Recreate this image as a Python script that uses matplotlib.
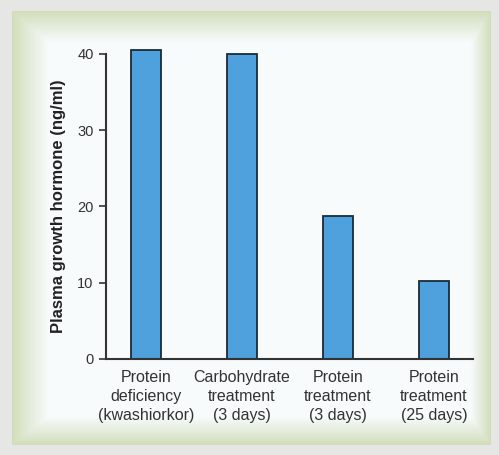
import numpy as np
import matplotlib.pyplot as plt

plt.rcParams['font.family'] = ['Liberation Sans', 'DejaVu Sans']

categories = ["Protein\ndeficiency\n(kwashiorkor)",
              "Carbohydrate\ntreatment\n(3 days)",
              "Protein\ntreatment\n(3 days)",
              "Protein\ntreatment\n(25 days)"]
values = [40.5, 40.0, 18.7, 10.2]
yticks = [0, 10, 20, 30, 40]

W, H = 499, 455
fig = plt.figure(figsize=(W / 100, H / 100), dpi=100)

# background: gray page + panel with greenish soft border
bg = fig.add_axes([0, 0, 1, 1])
bg.set_axis_off()
yy, xx = np.mgrid[0:H, 0:W]
x0, x1, y0, y1 = 12, 490, 11, 444
dl = (xx - x0) / 1.3
dr = (x1 - xx) * 1.4
dt = (yy - y0) / 1.1
db = (y1 - yy)
d = np.minimum.reduce([dl, dr, dt, db]).astype(float)
t = np.clip(d / 28.0, 0, 1)[..., None]
green = np.array([0.82, 0.87, 0.73])
white = np.array([0.972, 0.985, 0.992])
gray = np.array([0.905, 0.905, 0.895])
img = green * (1 - t) + white * t
outside = (np.minimum.reduce([xx - x0, x1 - xx, yy - y0, y1 - yy]) < 0)[..., None]
img = np.where(outside, gray, img)
bg.imshow(img, extent=[0, W, H, 0], aspect='auto')
bg.set_xlim(0, W)
bg.set_ylim(H, 0)

# main axes: y-axis at x=106, x-axis at y=359, top 40 at y=54
left, right = 106 / W, 473 / W
bottom = 1 - 359 / H
top_px = 359 - 7.625 * 42
ax = fig.add_axes([left, bottom, right - left, (359 - top_px) / H])
ax.patch.set_alpha(0)

x = np.arange(len(values))
ax.bar(x, values, width=0.31, color='#4ea1dc', edgecolor='#1c2b36', linewidth=1.3)

ax.set_xlim(-0.417, 3.406)
ax.set_ylim(0, 42)
ax.set_yticks(yticks)
ax.set_xticks(x)
ax.set_xticklabels(categories, fontsize=11.5, color='#333333', linespacing=1.32)
ax.tick_params(axis='x', length=0, pad=8)
ax.tick_params(axis='y', length=5, width=1.2, labelsize=10.5, labelcolor='#333333',
               color='#333333', pad=4)
for s in ['top', 'right']:
    ax.spines[s].set_visible(False)
for s in ['left', 'bottom']:
    ax.spines[s].set_linewidth(1.5)
    ax.spines[s].set_color('#333333')
ax.spines['left'].set_bounds(0, 40)

ax.set_ylabel("Plasma growth hormone (ng/ml)", fontsize=12, fontweight='bold',
              color='#222222')
ax.yaxis.set_label_coords(-0.108, 0.478)

fig.savefig("out.png", dpi=100)
